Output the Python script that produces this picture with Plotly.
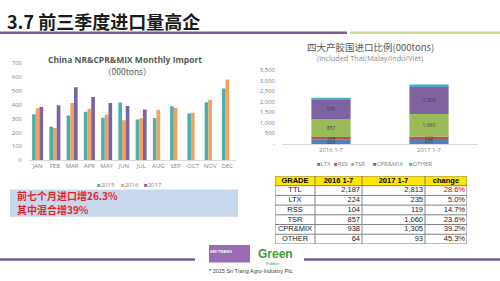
import plotly.graph_objects as go

W, H = 500, 281
def px(x): return x / W
def py(y): return 1 - y / H

# ---------------- data ----------------
months = ["JAN", "FEB", "MAR", "APR", "MAY", "JUN", "JUL", "AUG", "SEP", "OCT", "NOV", "DEC"]
imp_2015 = [332, 241, 323, 349, 307, 417, 293, 304, 389, 337, 419, 518]
imp_2016 = [375, 232, 412, 372, 328, 288, 302, 363, 377, 342, 436, 583]
imp_2017 = [384, 396, 527, 457, 412, 391, 365]
years = ["2015", "2016", "2017"]

periods = ["2016 1-7", "2017 1-7"]
grades = ["LTX", "RSS", "TSR", "CPR&MIX", "OTHER"]
grade_vals = {
    "LTX": [224, 235],
    "RSS": [104, 119],
    "TSR": [857, 1060],
    "CPR&MIX": [938, 1305],
    "OTHER": [64, 93],
}
right_yticks = [0, 500, 1000, 1500, 2000, 2500, 3000, 3500]

tbl_header = ["GRADE", "2016 1-7", "2017 1-7", "change"]
tbl_grade = ["TTL", "LTX", "RSS", "TSR", "CPR&MIX", "OTHER"]
tbl_2016 = ["2,187", "224", "104", "857", "938", "64"]
tbl_2017 = ["2,813", "235", "119", "1,060", "1,305", "93"]
tbl_change = ["28.6%", "5.0%", "14.7%", "23.6%", "39.2%", "45.3%"]

note_lines = ["前七个月进口增26.3%", "其中混合增39%"]

# ---------------- styles ----------------
year_colors = ["#4FADAE", "#F0A35E", "#7E63A3"]
grade_colors = ["#4F81BD", "#C0504D", "#9BBB59", "#8064A2", "#4BACC6"]
gray_txt = "#7F7F7F"
cfont = "Open Sans"
tfont = "Liberation Sans"
col_widths = [40, 47, 63, 42]

fig = go.Figure()

# left grouped bars
for yr, vals, col in zip(years, [imp_2015, imp_2016, imp_2017], year_colors):
    fig.add_trace(go.Bar(x=months[:len(vals)], y=vals, name=yr, marker_color=col,
                         marker_line_width=0, xaxis="x", yaxis="y", showlegend=False,
                         offsetgroup=yr))

# right stacked bars (explicit base, shared offset group)
running = [0] * len(periods)
for g, col in zip(grades, grade_colors):
    vals = grade_vals[g]
    txt = [f"{v:,}" for v in vals] if g != "OTHER" else ["", ""]
    fig.add_trace(go.Bar(x=periods, y=vals, base=list(running), name=g, marker_color=col,
                         marker_line_width=0, xaxis="x2", yaxis="y2", showlegend=False,
                         offsetgroup="stack", width=0.4,
                         text=txt, textposition="inside", insidetextanchor="middle",
                         textfont=dict(size=5, color="#404040", family=cfont),
                         textangle=0))
    running = [r + v for r, v in zip(running, vals)]

# table drawn on its own axes (x3: column units, y3: row units)
edges = [0]
for w in col_widths:
    edges.append(edges[-1] + w)
n_rows = len(tbl_grade) + 1
tx, ty, tt, tc, tp = [], [], [], [], []
for j, h in enumerate(tbl_header):
    tx.append((edges[j] + edges[j + 1]) / 2); ty.append(0.5)
    tt.append(f"<b>{h}</b>"); tc.append("#000000"); tp.append("middle center")
for j, colvals in enumerate([tbl_grade, tbl_2016, tbl_2017, tbl_change]):
    for i, v in enumerate(colvals):
        if j == 0:
            tx.append((edges[0] + edges[1]) / 2); tp.append("middle center")
        else:
            tx.append(edges[j + 1] - 2); tp.append("middle left")
        ty.append(i + 1.5)
        tt.append(v)
        tc.append("#C00000" if (j == 3 and i == 0) else "#1A1A1A")
fig.add_trace(go.Scatter(x=tx, y=ty, text=tt, mode="text", textposition=tp,
                         textfont=dict(size=7.5, color=tc, family=tfont),
                         xaxis="x3", yaxis="y3", showlegend=False, hoverinfo="skip"))

fig.update_layout(
    width=W, height=H, margin=dict(l=0, r=0, t=0, b=0),
    paper_bgcolor="white", plot_bgcolor="white",
    barmode="group", bargap=0.36, bargroupgap=0,
    uniformtext=dict(minsize=5, mode="show"),
    font=dict(family=cfont, color=gray_txt),
    xaxis=dict(domain=[px(29), px(236)], showgrid=False, showline=True, linecolor="#D9D9D9",
               ticks="", tickfont=dict(size=6, color=gray_txt), anchor="y"),
    yaxis=dict(domain=[py(160.7), py(61)], range=[0, 700], tickvals=list(range(0, 701, 100)),
               showgrid=False, zeroline=False, showline=False, ticks="",
               tickfont=dict(size=6, color=gray_txt), anchor="x", ticklabelstandoff=6),
    xaxis2=dict(domain=[px(282), px(478)], showgrid=False, showline=True, linecolor="#D9D9D9",
                ticks="", tickfont=dict(size=6, color=gray_txt), anchor="y2"),
    yaxis2=dict(domain=[py(144), py(68)], range=[0, 3500], tickvals=right_yticks,
                ticktext=["-"] + [f"{v:,}" for v in right_yticks[1:]],
                showgrid=False, zeroline=False, showline=False, ticks="",
                tickfont=dict(size=6, color=gray_txt), anchor="x2", ticklabelstandoff=6),
    xaxis3=dict(domain=[px(275), px(467)], range=[0, edges[-1]], visible=False, anchor="y3"),
    yaxis3=dict(domain=[py(247), py(177)], range=[n_rows, 0], visible=False, anchor="x3"),
)

shapes = []
# header rules
shapes.append(dict(type="line", xref="paper", yref="paper", x0=0, x1=px(347), y0=py(29.5), y1=py(29.5),
                   line=dict(color="#7B5A9C", width=2.5)))
shapes.append(dict(type="line", xref="paper", yref="paper", x0=px(350), x1=1, y0=py(29.5), y1=py(29.5),
                   line=dict(color="#C9DC8E", width=2.5)))
# footer rules
shapes.append(dict(type="line", xref="paper", yref="paper", x0=0, x1=px(195), y0=py(263), y1=py(263),
                   line=dict(color="#7B5A9C", width=2.5)))
shapes.append(dict(type="line", xref="paper", yref="paper", x0=px(304), x1=1, y0=py(263), y1=py(263),
                   line=dict(color="#7B5A9C", width=2.5)))
# highlight box
shapes.append(dict(type="rect", xref="paper", yref="paper", x0=px(10), x1=px(238), y0=py(219), y1=py(191),
                   fillcolor="#C7D7EC", line=dict(width=0), layer="below"))
# logo box
shapes.append(dict(type="rect", xref="paper", yref="paper", x0=px(209), x1=px(250), y0=py(266), y1=py(248),
                   fillcolor="#9A6CB4", line=dict(width=0)))
# table header fill and grid
shapes.append(dict(type="rect", xref="x3", yref="y3", x0=0, x1=edges[-1], y0=0, y1=1,
                   fillcolor="#FFE500", line=dict(width=0), layer="below"))
for r in range(n_rows + 1):
    shapes.append(dict(type="line", xref="x3", yref="y3", x0=0, x1=edges[-1], y0=r, y1=r,
                       line=dict(color="#808080", width=1)))
for e in edges:
    shapes.append(dict(type="line", xref="x3", yref="y3", x0=e, x1=e, y0=0, y1=n_rows,
                       line=dict(color="#808080", width=1)))
fig.update_layout(shapes=shapes)

ann = []
ann.append(dict(text="<b>3.7 前三季度进口量高企</b>", x=px(5), y=py(18), xref="paper", yref="paper",
                xanchor="left", yanchor="middle", showarrow=False,
                font=dict(size=18, color="#1A1A1A", family="Noto Sans CJK SC")))
ann.append(dict(text="<b>China NR&CPR&MIX Monthly Import</b>", x=px(125), y=py(57), xref="paper", yref="paper",
                xanchor="center", yanchor="middle", showarrow=False,
                font=dict(size=8.5, color="#595959", family=cfont)))
ann.append(dict(text="（000tons）", x=px(127), y=py(69), xref="paper", yref="paper",
                xanchor="center", yanchor="middle", showarrow=False,
                font=dict(size=8.5, color="#595959", family="Noto Sans CJK SC")))
ann.append(dict(text="四大产胶国进口比例(000tons)", x=px(370), y=py(44), xref="paper", yref="paper",
                xanchor="center", yanchor="middle", showarrow=False,
                font=dict(size=9.5, color="#595959", family="Noto Sans CJK SC")))
ann.append(dict(text="(included Thai/Malay/Indo/Viet)", x=px(370), y=py(55.5), xref="paper", yref="paper",
                xanchor="center", yanchor="middle", showarrow=False,
                font=dict(size=7.3, color="#8C8C8C", family=cfont)))
# legends
for xpos, yr, col in zip([95, 119, 142], years, year_colors):
    ann.append(dict(text=f"<span style='color:{col}'>■</span>{yr}", x=px(xpos), y=py(186), xref="paper",
                    yref="paper", xanchor="left", yanchor="middle", showarrow=False,
                    font=dict(size=6, color=gray_txt, family=cfont)))
for xpos, g, col in zip([315, 332, 349, 371, 407], grades, grade_colors):
    ann.append(dict(text=f"<span style='color:{col}'>■</span>{g}", x=px(xpos), y=py(164.5), xref="paper",
                    yref="paper", xanchor="left", yanchor="middle", showarrow=False,
                    font=dict(size=6, color=gray_txt, family=cfont)))
# highlight text (two lines)
for line, yc in zip(note_lines, [197.5, 212]):
    ann.append(dict(text=f"<b>{line}</b>", x=px(15), y=py(yc), xref="paper",
                    yref="paper", xanchor="left", yanchor="middle", align="left", showarrow=False,
                    font=dict(size=10, color="#E3262B", family="Noto Sans CJK SC")))
# logo texts
ann.append(dict(text="<b>SRI TRANG</b>", x=px(221), y=py(255), xref="paper", yref="paper",
                xanchor="center", yanchor="middle", showarrow=False,
                font=dict(size=4, color="white", family=tfont)))
ann.append(dict(text="<b>Green</b>", x=px(256), y=py(257), xref="paper", yref="paper",
                xanchor="left", yanchor="middle", showarrow=False,
                font=dict(size=12, color="#3E9A35", family=tfont)))
ann.append(dict(text="Rubber", x=px(273), y=py(267.5), xref="paper", yref="paper",
                xanchor="center", yanchor="middle", showarrow=False,
                font=dict(size=4, color="#3E9A35", family=tfont)))
ann.append(dict(text="* 2015 Sri Trang Agro-Industry Plc.", x=px(207), y=py(275), xref="paper", yref="paper",
                xanchor="left", yanchor="middle", showarrow=False,
                font=dict(size=5.5, color="#404040", family=tfont)))
fig.update_layout(annotations=ann)

fig.write_html("out.html")
